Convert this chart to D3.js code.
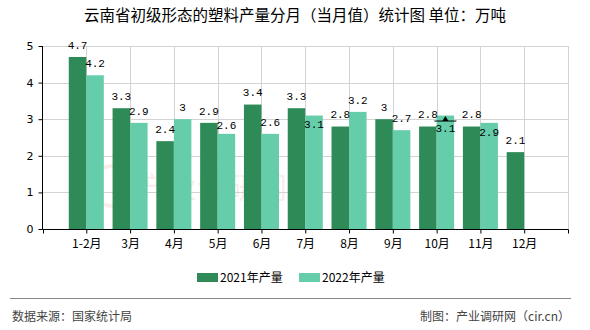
<!DOCTYPE html>
<html><head><meta charset="utf-8">
<script src="https://cdn.jsdelivr.net/npm/d3@7"></script>
<style>
body{margin:0;background:#fff;}
svg{display:block;}
</style></head>
<body>
<script>
const months = ["1-2月","3月","4月","5月","6月","7月","8月","9月","10月","11月","12月"];
const series2021 = [4.7,3.3,2.4,2.9,3.4,3.3,2.8,3,2.8,2.8,2.1];
const series2022 = [4.2,2.9,3,2.6,2.6,3.1,3.2,2.7,3.1,2.9,null];
const seriesNames = ["2021年产量","2022年产量"];
const yTicks = [0,1,2,3,4,5];
const titleText = "云南省初级形态的塑料产量分月（当月值）统计图 单位：万吨";
const sourceText = "数据来源：国家统计局";
const creditText = "制图：产业调研网（cir.cn）";

const W=590,H=330;
const colors=["#2E8B57","#66CDAA"];
const svg=d3.select("body").append("svg").attr("width",W).attr("height",H);

const x=d3.scalePoint().domain(months).range([42.5,568]).padding(1);
const y=d3.scaleLinear().domain([0,5]).range([229,46]);
const step=x.step();
const bw=step*0.4;

// title
svg.append("text").attr("x",295).attr("y",21).attr("text-anchor","middle")
  .attr("font-family","'Noto Sans CJK SC'").attr("font-size",15.5).attr("fill","#000").text(titleText);

// watermark
const wm=svg.append("g").attr("opacity",0.07);
wm.append("circle").attr("cx",112).attr("cy",186).attr("r",20).attr("fill","none").attr("stroke","#c00").attr("stroke-width",4);
wm.append("text").attr("x",212).attr("y",198).attr("text-anchor","middle").attr("font-family","'Noto Sans CJK SC'")
  .attr("font-size",30).attr("fill","#c00").text("产业调研网");

// gridlines
const grid=svg.append("g").attr("stroke","#d3d3d3").attr("stroke-width",1);
yTicks.filter(d=>d>0).forEach(t=>{
  grid.append("line").attr("x1",42.5).attr("x2",568).attr("y1",Math.round(y(t))+0.5).attr("y2",Math.round(y(t))+0.5);
});
const vpos=months.map(m=>x(m)).concat([x(months[months.length-1])+step]);
vpos.forEach(p=>{
  grid.append("line").attr("x1",Math.round(p)+0.5).attr("x2",Math.round(p)+0.5).attr("y1",46).attr("y2",229);
});

// bars
const data=months.map((m,i)=>({m,v:[series2021[i],series2022[i]]}));
const bars=svg.append("g");
[0,1].forEach(s=>{
  bars.selectAll(".b"+s).data(data.filter(d=>d.v[s]!=null)).enter().append("rect")
    .attr("x",d=>x(d.m)-bw+s*bw).attr("width",bw)
    .attr("y",d=>y(d.v[s])).attr("height",d=>y(0)-y(d.v[s]))
    .attr("fill",colors[s]);
});

// axes
const yAxis=svg.append("g").attr("transform","translate(42.5,0)")
  .call(d3.axisLeft(y).tickValues(yTicks).tickSize(4).tickFormat(d3.format("d")));
yAxis.select(".domain").attr("stroke","#000").attr("d","M0,46V229.5");
yAxis.selectAll("text").attr("font-family","'DejaVu Sans'").attr("font-size",11).attr("fill","#000").attr("dx",-2);
const xAxis=svg.append("g").attr("transform","translate(0,229.5)")
  .call(d3.axisBottom(x).tickSize(4).tickPadding(6));
xAxis.select(".domain").attr("stroke","#000").attr("d","M42.5,0H568.5");
xAxis.selectAll("text").attr("font-family","'Noto Sans CJK SC'").attr("font-size",12).attr("fill","#000");
[x(months[0])-step, x(months[months.length-1])+step].forEach(p=>{
  xAxis.append("line").attr("x1",Math.round(p)+0.5).attr("x2",Math.round(p)+0.5).attr("y1",0).attr("y2",4).attr("stroke","#000");
});

// value labels with simple collision avoidance
const charW=6.6;
const labels=[];
data.forEach(d=>{
  [0,1].forEach(s=>{
    if(d.v[s]==null) return;
    const t=String(d.v[s]);
    const cx=x(d.m)-bw/2+s*bw;
    let cy=y(d.v[s])-12;
    labels.push({t,cx,cy,w:t.length*charW,s,top:y(d.v[s])});
  });
});
for(let i=1;i<labels.length;i++){
  const a=labels[i-1],b=labels[i];
  if(b.s===1&&a.s===0){
    const hx=Math.abs(a.cx-b.cx)<(a.w+b.w)/2;
    const hy=Math.abs(a.cy-b.cy)<12;
    if(hx&&hy){
      let nb=a.cy+14;
      if(nb+6>b.top) nb=Math.max(nb,b.top+9);
      b.cy=nb;
    }
  }
}
svg.append("g").selectAll("text").data(labels).enter().append("text")
  .attr("x",d=>d.cx).attr("y",d=>d.cy).attr("dy","0.35em").attr("text-anchor","middle")
  .attr("font-family","'Liberation Mono'").attr("font-size",11).attr("fill","#000").text(d=>d.t);

// small marker on 10月
const mi=months.indexOf("10月");
const mx=x(months[mi])+bw/2, my=y(series2022[mi])+5.5;
svg.append("line").attr("x1",mx-11).attr("x2",mx+11).attr("y1",my).attr("y2",my).attr("stroke","#000");
svg.append("path").attr("d",`M${mx},${my-5}L${mx-3},${my}L${mx+3},${my}Z`).attr("fill","#000");

// legend
const lg=svg.append("g");
const lx=[197,299];
seriesNames.forEach((n,i)=>{
  lg.append("rect").attr("x",lx[i]).attr("y",273).attr("width",21).attr("height",9).attr("fill",colors[i]);
  lg.append("text").attr("x",lx[i]+23).attr("y",277.5).attr("dy","0.35em").attr("font-family","'Noto Sans CJK SC'")
    .attr("font-size",12).attr("fill","#000").text(n);
});

// footer
svg.append("line").attr("x1",10).attr("x2",571).attr("y1",298.5).attr("y2",298.5).attr("stroke","#888").attr("stroke-width",1);
svg.append("text").attr("x",12).attr("y",317).attr("dy","0.35em").attr("font-family","'Noto Sans CJK SC'")
  .attr("font-size",12).attr("fill","#444").text(sourceText);
svg.append("text").attr("x",570).attr("y",317).attr("dy","0.35em").attr("text-anchor","end").attr("font-family","'Noto Sans CJK SC'")
  .attr("font-size",12).attr("fill","#444").text(creditText);
</script>
</body></html>
